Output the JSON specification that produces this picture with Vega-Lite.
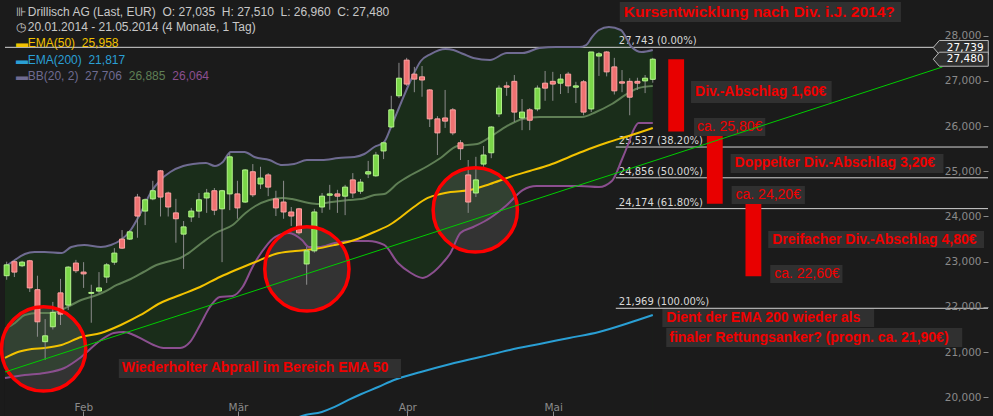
{
"$schema":"https://vega.github.io/schema/vega-lite/v6.json",
"width":993,"height":416,"padding":0,"autosize":"none",
"background":"#1b1b1b",
"config":{"view":{"stroke":null}},
"datasets":{
"candles":[
{"i":0,"o":22.69,"h":23.0,"l":22.6,"c":22.93},
{"i":1,"o":23.0,"h":23.04,"l":22.66,"c":22.77},
{"i":2,"o":22.91,"h":23.02,"l":22.88,"c":22.99},
{"i":3,"o":23.02,"h":23.04,"l":22.33,"c":22.42},
{"i":4,"o":22.38,"h":22.69,"l":21.34,"c":21.67},
{"i":5,"o":21.23,"h":21.73,"l":20.83,"c":21.36},
{"i":6,"o":21.56,"h":22.11,"l":21.5,"c":21.88},
{"i":7,"o":22.31,"h":22.62,"l":21.6,"c":21.84},
{"i":8,"o":22.04,"h":22.9,"l":21.93,"c":22.88},
{"i":9,"o":22.97,"h":23.04,"l":22.75,"c":22.8},
{"i":10,"o":22.77,"h":22.99,"l":22.42,"c":22.73},
{"i":11,"o":22.3,"h":22.49,"l":21.65,"c":22.32},
{"i":12,"o":22.35,"h":22.77,"l":22.31,"c":22.42},
{"i":13,"o":22.66,"h":22.97,"l":22.53,"c":22.93},
{"i":14,"o":22.99,"h":23.3,"l":22.93,"c":23.19},
{"i":15,"o":23.5,"h":23.7,"l":23.28,"c":23.3},
{"i":16,"o":23.5,"h":23.7,"l":23.48,"c":23.66},
{"i":17,"o":24.43,"h":24.5,"l":23.53,"c":24.01},
{"i":18,"o":24.12,"h":24.4,"l":23.81,"c":24.37},
{"i":19,"o":24.39,"h":24.79,"l":24.36,"c":24.57},
{"i":20,"o":25.01,"h":25.03,"l":24.0,"c":24.43},
{"i":21,"o":24.52,"h":24.55,"l":24.0,"c":24.21},
{"i":22,"o":24.08,"h":24.39,"l":23.42,"c":23.95},
{"i":23,"o":23.61,"h":23.9,"l":22.84,"c":23.77},
{"i":24,"o":23.99,"h":24.19,"l":23.88,"c":24.12},
{"i":25,"o":24.12,"h":24.52,"l":23.97,"c":24.37},
{"i":26,"o":24.41,"h":24.61,"l":24.08,"c":24.52},
{"i":27,"o":24.57,"h":24.63,"l":24.03,"c":24.14},
{"i":28,"o":24.17,"h":24.59,"l":22.99,"c":24.57},
{"i":29,"o":24.5,"h":25.4,"l":24.14,"c":25.32},
{"i":30,"o":24.5,"h":24.79,"l":23.95,"c":24.19},
{"i":31,"o":24.32,"h":25.05,"l":24.3,"c":25.03},
{"i":32,"o":24.99,"h":25.16,"l":24.43,"c":24.48},
{"i":33,"o":24.72,"h":25.1,"l":24.61,"c":24.85},
{"i":34,"o":24.92,"h":24.96,"l":24.45,"c":24.65},
{"i":35,"o":24.39,"h":24.57,"l":24.01,"c":24.19},
{"i":36,"o":24.32,"h":24.79,"l":23.95,"c":24.1},
{"i":37,"o":24.1,"h":24.21,"l":23.79,"c":24.01},
{"i":38,"o":24.17,"h":24.19,"l":23.6,"c":23.64},
{"i":39,"o":22.95,"h":23.33,"l":22.49,"c":23.24},
{"i":40,"o":23.24,"h":24.17,"l":23.2,"c":24.1},
{"i":41,"o":24.21,"h":24.52,"l":24.08,"c":24.45},
{"i":42,"o":24.47,"h":24.7,"l":24.15,"c":24.5},
{"i":43,"o":24.5,"h":24.59,"l":24.08,"c":24.45},
{"i":44,"o":24.45,"h":24.7,"l":24.03,"c":24.65},
{"i":45,"o":24.81,"h":24.96,"l":24.41,"c":24.52},
{"i":46,"o":24.56,"h":24.83,"l":24.5,"c":24.76},
{"i":47,"o":24.94,"h":25.23,"l":24.85,"c":24.99},
{"i":48,"o":24.9,"h":25.43,"l":24.88,"c":25.36},
{"i":49,"o":25.45,"h":25.65,"l":25.27,"c":25.63},
{"i":50,"o":25.98,"h":26.67,"l":25.96,"c":26.36},
{"i":51,"o":26.67,"h":27.4,"l":26.62,"c":27.06},
{"i":52,"o":27.46,"h":27.51,"l":26.89,"c":26.93},
{"i":53,"o":27.15,"h":27.31,"l":26.75,"c":27.04},
{"i":54,"o":27.09,"h":27.33,"l":26.65,"c":27.02},
{"i":55,"o":26.8,"h":26.82,"l":25.98,"c":26.16},
{"i":56,"o":26.16,"h":26.22,"l":25.36,"c":25.85},
{"i":57,"o":26.18,"h":26.8,"l":25.96,"c":26.11},
{"i":58,"o":26.36,"h":26.4,"l":25.8,"c":25.85},
{"i":59,"o":25.63,"h":25.69,"l":25.25,"c":25.5},
{"i":60,"o":24.92,"h":25.25,"l":24.08,"c":24.32},
{"i":61,"o":24.52,"h":25.32,"l":24.43,"c":24.81},
{"i":62,"o":25.16,"h":25.56,"l":25.1,"c":25.36},
{"i":63,"o":25.41,"h":26.0,"l":25.29,"c":25.98},
{"i":64,"o":26.27,"h":26.9,"l":26.2,"c":26.84},
{"i":65,"o":26.89,"h":26.98,"l":26.67,"c":26.86},
{"i":66,"o":26.99,"h":27.13,"l":26.09,"c":26.31},
{"i":67,"o":26.18,"h":26.6,"l":25.91,"c":26.31},
{"i":68,"o":26.36,"h":26.4,"l":25.91,"c":26.13},
{"i":69,"o":26.38,"h":26.9,"l":26.33,"c":26.84},
{"i":70,"o":26.95,"h":27.22,"l":26.56,"c":26.84},
{"i":71,"o":26.99,"h":27.2,"l":26.56,"c":26.93},
{"i":72,"o":26.95,"h":27.15,"l":26.71,"c":27.04},
{"i":73,"o":27.15,"h":27.2,"l":26.73,"c":26.89},
{"i":74,"o":26.86,"h":26.98,"l":26.51,"c":26.89},
{"i":75,"o":26.98,"h":27.02,"l":26.24,"c":26.31},
{"i":76,"o":26.38,"h":27.64,"l":26.31,"c":27.64},
{"i":77,"o":27.55,"h":27.64,"l":27.11,"c":27.6},
{"i":78,"o":27.64,"h":27.66,"l":27.1,"c":27.2},
{"i":79,"o":27.31,"h":27.51,"l":26.7,"c":26.78},
{"i":80,"o":26.98,"h":27.24,"l":26.75,"c":26.95},
{"i":81,"o":26.99,"h":27.06,"l":26.24,"c":26.64},
{"i":82,"o":26.99,"h":27.07,"l":26.8,"c":26.95},
{"i":83,"o":27.0,"h":27.13,"l":26.73,"c":27.06},
{"i":84,"o":27.035,"h":27.51,"l":26.96,"c":27.48}
],
"lines":[
{"s":"bbu","i":-0.22,"v":22.883},{"s":"bbu","i":1.07,"v":23.038},{"s":"bbu","i":2.36,"v":23.171},{"s":"bbu","i":3.64,"v":23.215},{"s":"bbu","i":4.93,"v":23.215},{"s":"bbu","i":7.12,"v":23.193},{"s":"bbu","i":8.4,"v":23.325},{"s":"bbu","i":10.08,"v":23.37},{"s":"bbu","i":12.26,"v":23.325},{"s":"bbu","i":13.55,"v":23.37},{"s":"bbu","i":14.84,"v":23.48},{"s":"bbu","i":16.13,"v":23.702},{"s":"bbu","i":17.41,"v":24.078},{"s":"bbu","i":18.7,"v":24.52},{"s":"bbu","i":19.99,"v":24.808},{"s":"bbu","i":21.27,"v":24.985},{"s":"bbu","i":22.95,"v":25.117},{"s":"bbu","i":24.23,"v":25.162},{"s":"bbu","i":25.91,"v":25.184},{"s":"bbu","i":27.07,"v":25.117},{"s":"bbu","i":28.1,"v":25.206},{"s":"bbu","i":29.12,"v":25.427},{"s":"bbu","i":30.93,"v":25.427},{"s":"bbu","i":32.21,"v":25.317},{"s":"bbu","i":34.14,"v":25.25},{"s":"bbu","i":35.82,"v":25.14},{"s":"bbu","i":37.36,"v":25.162},{"s":"bbu","i":39.03,"v":25.25},{"s":"bbu","i":40.97,"v":25.25},{"s":"bbu","i":43.15,"v":25.294},{"s":"bbu","i":45.21,"v":25.317},{"s":"bbu","i":46.5,"v":25.383},{"s":"bbu","i":47.79,"v":25.538},{"s":"bbu","i":49.08,"v":25.649},{"s":"bbu","i":49.97,"v":25.98},{"s":"bbu","i":51.26,"v":26.511},{"s":"bbu","i":52.55,"v":27.02},{"s":"bbu","i":53.84,"v":27.44},{"s":"bbu","i":55.12,"v":27.595},{"s":"bbu","i":57.05,"v":27.706},{"s":"bbu","i":58.08,"v":27.684},{"s":"bbu","i":59.37,"v":27.595},{"s":"bbu","i":60.66,"v":27.507},{"s":"bbu","i":62.84,"v":27.463},{"s":"bbu","i":65.03,"v":27.617},{"s":"bbu","i":67.09,"v":27.617},{"s":"bbu","i":69.28,"v":27.728},{"s":"bbu","i":71.47,"v":27.75},{"s":"bbu","i":74.43,"v":27.75},{"s":"bbu","i":75.33,"v":27.794},{"s":"bbu","i":76.1,"v":27.971},{"s":"bbu","i":77.0,"v":28.126},{"s":"bbu","i":78.29,"v":28.193},{"s":"bbu","i":79.83,"v":28.126},{"s":"bbu","i":81.25,"v":27.75},{"s":"bbu","i":82.54,"v":27.64},{"s":"bbu","i":84,"v":27.684},
{"s":"bbm","i":-0.22,"v":21.511},{"s":"bbm","i":1.07,"v":21.644},{"s":"bbm","i":2.36,"v":21.821},{"s":"bbm","i":4.03,"v":21.865},{"s":"bbm","i":5.83,"v":21.865},{"s":"bbm","i":7.12,"v":21.932},{"s":"bbm","i":8.4,"v":22.042},{"s":"bbm","i":9.69,"v":22.153},{"s":"bbm","i":11.36,"v":22.241},{"s":"bbm","i":12.65,"v":22.33},{"s":"bbm","i":14.32,"v":22.485},{"s":"bbm","i":16.13,"v":22.617},{"s":"bbm","i":17.8,"v":22.772},{"s":"bbm","i":19.47,"v":22.927},{"s":"bbm","i":21.27,"v":23.016},{"s":"bbm","i":22.56,"v":23.082},{"s":"bbm","i":23.85,"v":23.215},{"s":"bbm","i":25.52,"v":23.436},{"s":"bbm","i":27.19,"v":23.635},{"s":"bbm","i":29.38,"v":23.812},{"s":"bbm","i":31.06,"v":24.078},{"s":"bbm","i":32.34,"v":24.232},{"s":"bbm","i":34.14,"v":24.365},{"s":"bbm","i":35.82,"v":24.41},{"s":"bbm","i":37.1,"v":24.387},{"s":"bbm","i":39.29,"v":24.299},{"s":"bbm","i":40.58,"v":24.277},{"s":"bbm","i":42.25,"v":24.321},{"s":"bbm","i":44.44,"v":24.365},{"s":"bbm","i":46.11,"v":24.387},{"s":"bbm","i":47.79,"v":24.476},{"s":"bbm","i":49.08,"v":24.498},{"s":"bbm","i":50.87,"v":24.741},{"s":"bbm","i":52.55,"v":24.918},{"s":"bbm","i":54.74,"v":25.117},{"s":"bbm","i":56.41,"v":25.294},{"s":"bbm","i":58.6,"v":25.56},{"s":"bbm","i":61.17,"v":25.604},{"s":"bbm","i":62.84,"v":25.759},{"s":"bbm","i":65.03,"v":26.002},{"s":"bbm","i":67.09,"v":26.157},{"s":"bbm","i":69.28,"v":26.201},{"s":"bbm","i":74.81,"v":26.201},{"s":"bbm","i":76.61,"v":26.312},{"s":"bbm","i":78.68,"v":26.489},{"s":"bbm","i":80.86,"v":26.733},{"s":"bbm","i":82.15,"v":26.843},{"s":"bbm","i":84,"v":26.887},
{"s":"bbl","i":-0.22,"v":20.427},{"s":"bbl","i":2.36,"v":20.494},{"s":"bbl","i":4.93,"v":20.538},{"s":"bbl","i":7.5,"v":20.648},{"s":"bbl","i":9.69,"v":20.892},{"s":"bbl","i":12.26,"v":21.268},{"s":"bbl","i":13.94,"v":21.423},{"s":"bbl","i":15.23,"v":21.445},{"s":"bbl","i":16.51,"v":21.379},{"s":"bbl","i":17.8,"v":21.268},{"s":"bbl","i":19.09,"v":21.157},{"s":"bbl","i":20.37,"v":21.091},{"s":"bbl","i":22.56,"v":21.091},{"s":"bbl","i":23.85,"v":21.224},{"s":"bbl","i":25.14,"v":21.6},{"s":"bbl","i":26.42,"v":21.998},{"s":"bbl","i":27.71,"v":22.219},{"s":"bbl","i":29.38,"v":22.241},{"s":"bbl","i":30.67,"v":22.44},{"s":"bbl","i":31.96,"v":22.883},{"s":"bbl","i":33.63,"v":23.325},{"s":"bbl","i":34.92,"v":23.547},{"s":"bbl","i":36.72,"v":23.635},{"s":"bbl","i":38.39,"v":23.48},{"s":"bbl","i":39.29,"v":23.325},{"s":"bbl","i":40.58,"v":23.325},{"s":"bbl","i":42.64,"v":23.414},{"s":"bbl","i":44.83,"v":23.458},{"s":"bbl","i":47.01,"v":23.458},{"s":"bbl","i":49.08,"v":23.37},{"s":"bbl","i":50.87,"v":22.971},{"s":"bbl","i":52.55,"v":22.75},{"s":"bbl","i":54.09,"v":22.64},{"s":"bbl","i":55.51,"v":22.772},{"s":"bbl","i":56.8,"v":22.994},{"s":"bbl","i":57.7,"v":23.193},{"s":"bbl","i":58.98,"v":23.635},{"s":"bbl","i":60.66,"v":23.768},{"s":"bbl","i":62.84,"v":23.967},{"s":"bbl","i":65.03,"v":24.255},{"s":"bbl","i":67.09,"v":24.586},{"s":"bbl","i":68.89,"v":24.675},{"s":"bbl","i":71.47,"v":24.675},{"s":"bbl","i":74.43,"v":24.675},{"s":"bbl","i":77.0,"v":24.653},{"s":"bbl","i":78.68,"v":24.786},{"s":"bbl","i":79.96,"v":25.25},{"s":"bbl","i":80.86,"v":25.626},{"s":"bbl","i":81.5,"v":25.914},{"s":"bbl","i":82.15,"v":26.069},{"s":"bbl","i":84,"v":26.069},
{"s":"ema50","i":-0.22,"v":20.87},{"s":"ema50","i":1.45,"v":21.002},{"s":"ema50","i":3.26,"v":21.069},{"s":"ema50","i":4.93,"v":21.091},{"s":"ema50","i":7.12,"v":21.157},{"s":"ema50","i":9.69,"v":21.334},{"s":"ema50","i":12.26,"v":21.423},{"s":"ema50","i":14.84,"v":21.6},{"s":"ema50","i":17.41,"v":21.821},{"s":"ema50","i":19.99,"v":22.086},{"s":"ema50","i":22.56,"v":22.263},{"s":"ema50","i":25.14,"v":22.44},{"s":"ema50","i":27.71,"v":22.662},{"s":"ema50","i":29.77,"v":22.817},{"s":"ema50","i":32.34,"v":22.994},{"s":"ema50","i":34.92,"v":23.171},{"s":"ema50","i":37.49,"v":23.237},{"s":"ema50","i":40.06,"v":23.281},{"s":"ema50","i":42.64,"v":23.37},{"s":"ema50","i":45.21,"v":23.48},{"s":"ema50","i":47.79,"v":23.657},{"s":"ema50","i":49.97,"v":23.834},{"s":"ema50","i":51.26,"v":23.989},{"s":"ema50","i":52.93,"v":24.21},{"s":"ema50","i":54.74,"v":24.41},{"s":"ema50","i":56.41,"v":24.498},{"s":"ema50","i":57.7,"v":24.542},{"s":"ema50","i":60.27,"v":24.586},{"s":"ema50","i":62.84,"v":24.719},{"s":"ema50","i":65.42,"v":24.874},{"s":"ema50","i":67.99,"v":25.007},{"s":"ema50","i":70.57,"v":25.14},{"s":"ema50","i":73.14,"v":25.317},{"s":"ema50","i":75.71,"v":25.494},{"s":"ema50","i":78.29,"v":25.649},{"s":"ema50","i":80.86,"v":25.781},{"s":"ema50","i":84,"v":25.958},
{"s":"ema200","i":37.1,"v":19.498},{"s":"ema200","i":38.39,"v":19.587},{"s":"ema200","i":40.97,"v":19.676},{"s":"ema200","i":42.64,"v":19.786},{"s":"ema200","i":44.44,"v":19.941},{"s":"ema200","i":46.11,"v":20.073},{"s":"ema200","i":48.3,"v":20.228},{"s":"ema200","i":50.36,"v":20.383},{"s":"ema200","i":53.84,"v":20.56},{"s":"ema200","i":57.7,"v":20.737},{"s":"ema200","i":61.56,"v":20.892},{"s":"ema200","i":65.42,"v":21.047},{"s":"ema200","i":69.28,"v":21.18},{"s":"ema200","i":73.14,"v":21.312},{"s":"ema200","i":77.0,"v":21.445},{"s":"ema200","i":80.86,"v":21.644},{"s":"ema200","i":84,"v":21.821}
],
"trend":[{"i":-0.22,"v":20.56},{"i":121.66,"v":27.308}],
"circles":[{"i":4.8,"v":21.069},{"i":39.03,"v":22.84},{"i":60.92,"v":24.144}],
"fib":[
{"v":27.743,"x1":-0.22,"x2":127.58,"lx":79.58,"t":"27,743 (0.00%)"},
{"v":25.537,"x1":79.19,"x2":127.58,"lx":79.58,"t":"25,537 (38.20%)"},
{"v":24.856,"x1":79.19,"x2":127.58,"lx":79.58,"t":"24,856 (50.00%)"},
{"v":24.174,"x1":79.19,"x2":127.58,"lx":79.58,"t":"24,174 (61.80%)"},
{"v":21.969,"x1":79.19,"x2":127.58,"lx":79.58,"t":"21,969 (100.00%)"}
],
"div":[
{"x1":86.01,"x2":88.07,"top":27.48,"bot":25.88},
{"x1":91.03,"x2":93.09,"top":25.88,"bot":24.28},
{"x1":96.05,"x2":98.11,"top":24.28,"bot":22.68}
],
"boxes":[
{"x1":79.71,"x2":116.26,"y1":28.746,"y2":28.303},
{"x1":88.97,"x2":107.25,"y1":26.998,"y2":26.511},
{"x1":89.36,"x2":98.62,"y1":26.179,"y2":25.781},
{"x1":94.12,"x2":121.79,"y1":25.383,"y2":24.963},
{"x1":94.25,"x2":103.77,"y1":24.675,"y2":24.277},
{"x1":99.01,"x2":127.07,"y1":23.679,"y2":23.303},
{"x1":99.27,"x2":108.66,"y1":22.927,"y2":22.529},
{"x1":85.24,"x2":112.78,"y1":21.954,"y2":21.556},
{"x1":85.75,"x2":124.23,"y1":21.534,"y2":21.113},
{"x1":14.58,"x2":51.26,"y1":20.847,"y2":20.427}
],
"title":[{"i":80.22,"v":28.525,"t":"Kursentwicklung nach Div. i.J. 2014?"}],
"notesBold":[
{"i":89.49,"v":26.755,"t":"Div.-Abschlag 1,60€"},
{"i":94.63,"v":25.173,"t":"Doppelter Div.-Abschlag 3,20€"},
{"i":99.52,"v":23.491,"t":"Dreifacher Div.-Abschlag 4,80€"},
{"i":85.75,"v":21.755,"t":"Dient der EMA 200 wieder als"},
{"i":86.14,"v":21.312,"t":"finaler Rettungsanker? (progn. ca. 21,90€)"},
{"i":14.97,"v":20.637,"t":"Wiederholter Abprall im Bereich EMA 50"}
],
"notesReg":[
{"i":89.74,"v":25.98,"t":"ca. 25,80€"},
{"i":94.76,"v":24.476,"t":"ca. 24,20€"},
{"i":99.78,"v":22.728,"t":"ca. 22,60€"}
],
"legend":[
{"i":2.74,"v":28.525,"s":"info","t":"Drillisch AG (Last, EUR) \u00a0O: 27,035 \u00a0H: 27,510 \u00a0L: 26,960 \u00a0C: 27,480"},
{"i":2.74,"v":28.182,"s":"info","t":"20.01.2014 - 21.05.2014 (4 Monate, 1 Tag)"},
{"i":2.74,"v":27.839,"s":"ema50","t":"EMA(50) \u00a025,958"},
{"i":2.74,"v":27.463,"s":"ema200","t":"EMA(200) \u00a021,817"},
{"i":2.74,"v":27.109,"s":"bbu","t":"BB(20, 2) \u00a027,706"},
{"i":15.87,"v":27.109,"s":"bbm","t":"26,885"},
{"i":21.53,"v":27.109,"s":"bbl","t":"26,064"},
{"i":1.2,"v":28.525,"s":"info","t":"⊪"},
{"i":1.2,"v":28.182,"s":"info","t":"◷"},
{"i":1.2,"v":27.839,"s":"ema50","t":"▬"},
{"i":1.2,"v":27.463,"s":"ema200","t":"▬"},
{"i":1.2,"v":27.109,"s":"bbu","t":"▬"}
],
"tags":[
{"i":124.04,"ti":124.62,"v":27.739,"t":"27,739"},
{"i":124.04,"ti":124.62,"v":27.48,"t":"27,480"}
]
},
"layer":[
{"data":{"name":"lines"},"transform":[{"filter":"datum.s==='bbu'"}],
 "mark":{"type":"area","interpolate":"monotone","fill":"#1a2d1a"},
 "encoding":{
  "x":{"field":"i","type":"quantitative","scale":{"domain":[-0.219,127.58],"nice":false,"zero":false},
   "axis":{"orient":"bottom","offset":-5,"values":[9.97,30.07,52.09,71.05],"labelExpr":"datum.value < 20 ? 'Feb' : datum.value < 40 ? 'Mär' : datum.value < 60 ? 'Apr' : 'Mai'","domain":false,"grid":false,"tickSize":5,"tickColor":"#8a8a8a","labelColor":"#8a8a8a","labelFont":"DejaVu Sans","labelFontSize":10.5,"labelPadding":-6,"labelBaseline":"alphabetic","labelAlign":"center","title":null,"zindex":1,"labelFlush":false,"labelOverlap":false}},
  "y":{"field":"v","type":"quantitative","scale":{"domain":[19.586,28.79],"nice":false,"zero":false},
   "axis":{"orient":"right","offset":-10,"values":[20,21,22,23,24,25,26,27,28],"labelExpr":"replace(format(datum.value,'.3f'),'.',',')","domain":false,"grid":false,"tickSize":5,"tickColor":"#8a8a8a","labelColor":"#8a8a8a","labelFont":"DejaVu Sans","labelFontSize":10.5,"labelPadding":-7,"labelAlign":"right","labelBaseline":"middle","title":null,"zindex":1,"labelFlush":false,"labelOverlap":false}},
  "y2":{"datum":19.586}}},
{"data":{"name":"lines"},"transform":[{"filter":"datum.s==='bbl'"}],
 "mark":{"type":"area","interpolate":"monotone","fill":"#1b1b1b"},
 "encoding":{"x":{"field":"i","type":"quantitative","title":null},"y":{"field":"v","type":"quantitative","title":null},"y2":{"datum":19.586}}},
{"data":{"name":"circles"},
 "mark":{"type":"point","shape":"circle","filled":true,"size":7100,"fill":"#8a8a8a","fillOpacity":0.22,"strokeWidth":0,"opacity":1},
 "encoding":{"x":{"field":"i","type":"quantitative","title":null},"y":{"field":"v","type":"quantitative","title":null}}},
{"data":{"name":"fib"},
 "mark":{"type":"rule","color":"#d4d4d4","strokeWidth":1},
 "encoding":{"x":{"field":"x1","type":"quantitative","title":null},"x2":{"field":"x2"},"y":{"field":"v","type":"quantitative","title":null}}},
{"data":{"name":"fib"},
 "mark":{"type":"text","align":"left","baseline":"alphabetic","dy":-3,"font":"DejaVu Sans","fontSize":10,"fill":"#d8d8d8"},
 "encoding":{"x":{"field":"lx","type":"quantitative","title":null},"y":{"field":"v","type":"quantitative","title":null},"text":{"field":"t"}}},
{"data":{"name":"lines"},
 "mark":{"type":"line","interpolate":"monotone","strokeWidth":2,"clip":true},
 "encoding":{"x":{"field":"i","type":"quantitative","title":null},"y":{"field":"v","type":"quantitative","title":null},
  "color":{"field":"s","type":"nominal","legend":null,"scale":{"domain":["info","ema50","ema200","bbu","bbm","bbl"],"range":["#c8c8c8","#f2c200","#2a9fd4","#6f6b91","#5f7f55","#8b4f8f"]}},
  "detail":{"field":"s"}}},
{"data":{"name":"candles"},
 "mark":{"type":"rule","color":"#8c8c8c","strokeWidth":1},
 "encoding":{"x":{"field":"i","type":"quantitative","title":null},"y":{"field":"l","type":"quantitative","title":null},"y2":{"field":"h"}}},
{"data":{"name":"candles"},
 "mark":{"type":"bar","size":5,"strokeWidth":1},
 "encoding":{"x":{"field":"i","type":"quantitative","title":null},"y":{"field":"o","type":"quantitative","title":null},"y2":{"field":"c"},
  "fill":{"condition":{"test":"datum.c >= datum.o","value":"#7ad648"},"value":"#ef7272"},
  "stroke":{"condition":{"test":"datum.c >= datum.o","value":"#b4f58c"},"value":"#ffa3a3"}}},
{"data":{"name":"circles"},
 "mark":{"type":"point","shape":"circle","filled":false,"size":7100,"stroke":"#ff0000","strokeWidth":3.5,"opacity":1},
 "encoding":{"x":{"field":"i","type":"quantitative","title":null},"y":{"field":"v","type":"quantitative","title":null}}},
{"data":{"name":"div"},
 "mark":{"type":"rect","fill":"#e80000"},
 "encoding":{"x":{"field":"x1","type":"quantitative","title":null},"x2":{"field":"x2"},"y":{"field":"top","type":"quantitative","title":null},"y2":{"field":"bot"}}},
{"data":{"name":"boxes"},
 "mark":{"type":"rect","fill":"#303030"},
 "encoding":{"x":{"field":"x1","type":"quantitative","title":null},"x2":{"field":"x2"},"y":{"field":"y1","type":"quantitative","title":null},"y2":{"field":"y2"}}},
{"data":{"name":"title"},
 "mark":{"type":"text","align":"left","baseline":"middle","font":"Liberation Sans","fontWeight":"bold","fontSize":15.5,"fill":"#f00000"},
 "encoding":{"x":{"field":"i","type":"quantitative","title":null},"y":{"field":"v","type":"quantitative","title":null},"text":{"field":"t"}}},
{"data":{"name":"notesBold"},
 "mark":{"type":"text","align":"left","baseline":"middle","font":"Liberation Sans","fontWeight":"bold","fontSize":14,"fill":"#f00000"},
 "encoding":{"x":{"field":"i","type":"quantitative","title":null},"y":{"field":"v","type":"quantitative","title":null},"text":{"field":"t"}}},
{"data":{"name":"notesReg"},
 "mark":{"type":"text","align":"left","baseline":"middle","font":"Liberation Sans","fontSize":14,"fill":"#f00000"},
 "encoding":{"x":{"field":"i","type":"quantitative","title":null},"y":{"field":"v","type":"quantitative","title":null},"text":{"field":"t"}}},
{"data":{"name":"trend"},
 "mark":{"type":"line","color":"#00cc00","strokeWidth":1},
 "encoding":{"x":{"field":"i","type":"quantitative","title":null},"y":{"field":"v","type":"quantitative","title":null}}},
{"data":{"name":"legend"},
 "mark":{"type":"text","align":"left","baseline":"middle","font":"Liberation Sans","fontSize":12},
 "encoding":{"x":{"field":"i","type":"quantitative","title":null},"y":{"field":"v","type":"quantitative","title":null},"text":{"field":"t"},
  "color":{"field":"s","type":"nominal","legend":null}}},
{"data":{"name":"tags"},
 "mark":{"type":"point","shape":"M-1,0L-0.78,-0.255L1,-0.255L1,0.255L-0.78,0.255Z","filled":true,"size":3025,"fill":"#2e2e2e","stroke":"#b8b8b8","strokeWidth":1,"opacity":1},
 "encoding":{"x":{"field":"i","type":"quantitative","title":null},"y":{"field":"v","type":"quantitative","title":null}}},
{"data":{"name":"tags"},
 "mark":{"type":"text","align":"center","baseline":"middle","font":"DejaVu Sans","fontSize":10.5,"fill":"#ffffff"},
 "encoding":{"x":{"field":"ti","type":"quantitative","title":null},"y":{"field":"v","type":"quantitative","title":null},"text":{"field":"t"}}}
]
}
